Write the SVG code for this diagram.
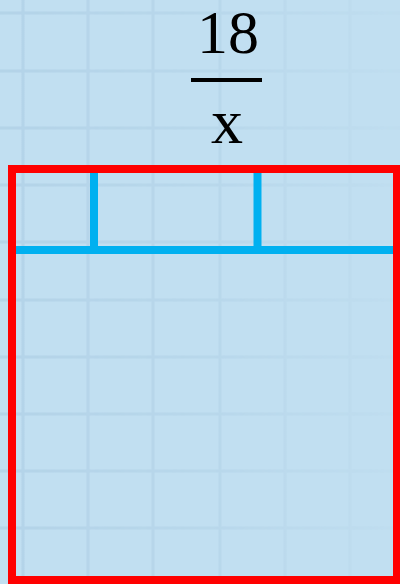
<svg xmlns="http://www.w3.org/2000/svg" width="400" height="584" viewBox="0 0 400 584">
  <style>
    .grid line { stroke: #a6c8df; stroke-width: 3; }
    .math { font-family: "Liberation Serif", "DejaVu Serif", serif; fill: #000; text-anchor: middle; }
    .frame { fill: none; stroke: #ff0000; stroke-width: 8; }
    .div { stroke: #00b0f0; stroke-width: 8; fill: none; }
  </style>
  <defs>
    <linearGradient id="fade" x1="0" y1="0" x2="1" y2="0">
      <stop offset="0" stop-color="#fff" stop-opacity="0.5"/>
      <stop offset="0.55" stop-color="#fff" stop-opacity="0.3"/>
      <stop offset="1" stop-color="#fff" stop-opacity="0.05"/>
    </linearGradient>
    <mask id="gridMask">
      <rect x="0" y="0" width="400" height="584" fill="url(#fade)"/>
    </mask>
  </defs>
  <rect x="0" y="0" width="400" height="584" fill="#c1dff1"/>
  <g class="grid" mask="url(#gridMask)">
    <line x1="23" y1="0" x2="23" y2="584"/>
    <line x1="88" y1="0" x2="88" y2="584"/>
    <line x1="153" y1="0" x2="153" y2="584"/>
    <line x1="220" y1="0" x2="220" y2="584"/>
    <line x1="285" y1="0" x2="285" y2="584"/>
    <line x1="350" y1="0" x2="350" y2="584"/>
    <line x1="0" y1="13" x2="400" y2="13"/>
    <line x1="0" y1="71" x2="400" y2="71"/>
    <line x1="0" y1="128" x2="400" y2="128"/>
    <line x1="0" y1="185" x2="400" y2="185"/>
    <line x1="0" y1="242" x2="400" y2="242"/>
    <line x1="0" y1="300" x2="400" y2="300"/>
    <line x1="0" y1="357" x2="400" y2="357"/>
    <line x1="0" y1="414" x2="400" y2="414"/>
    <line x1="0" y1="471" x2="400" y2="471"/>
    <line x1="0" y1="528" x2="400" y2="528"/>
  </g>
  <g id="fraction">
    <text class="math" x="228" y="53" font-size="62">18</text>
    <rect x="191" y="78" width="71" height="4" fill="#000"/>
    <text class="math" x="227" y="143" font-size="64">x</text>
  </g>
  <g id="dividers">
    <line class="div" x1="16" y1="250" x2="394" y2="250"/>
    <line class="div" x1="94" y1="173" x2="94" y2="250"/>
    <line class="div" x1="257.5" y1="173" x2="257.5" y2="250"/>
  </g>
  <g id="frame">
    <rect class="frame" x="12" y="169" width="385" height="411"/>
  </g>
</svg>
